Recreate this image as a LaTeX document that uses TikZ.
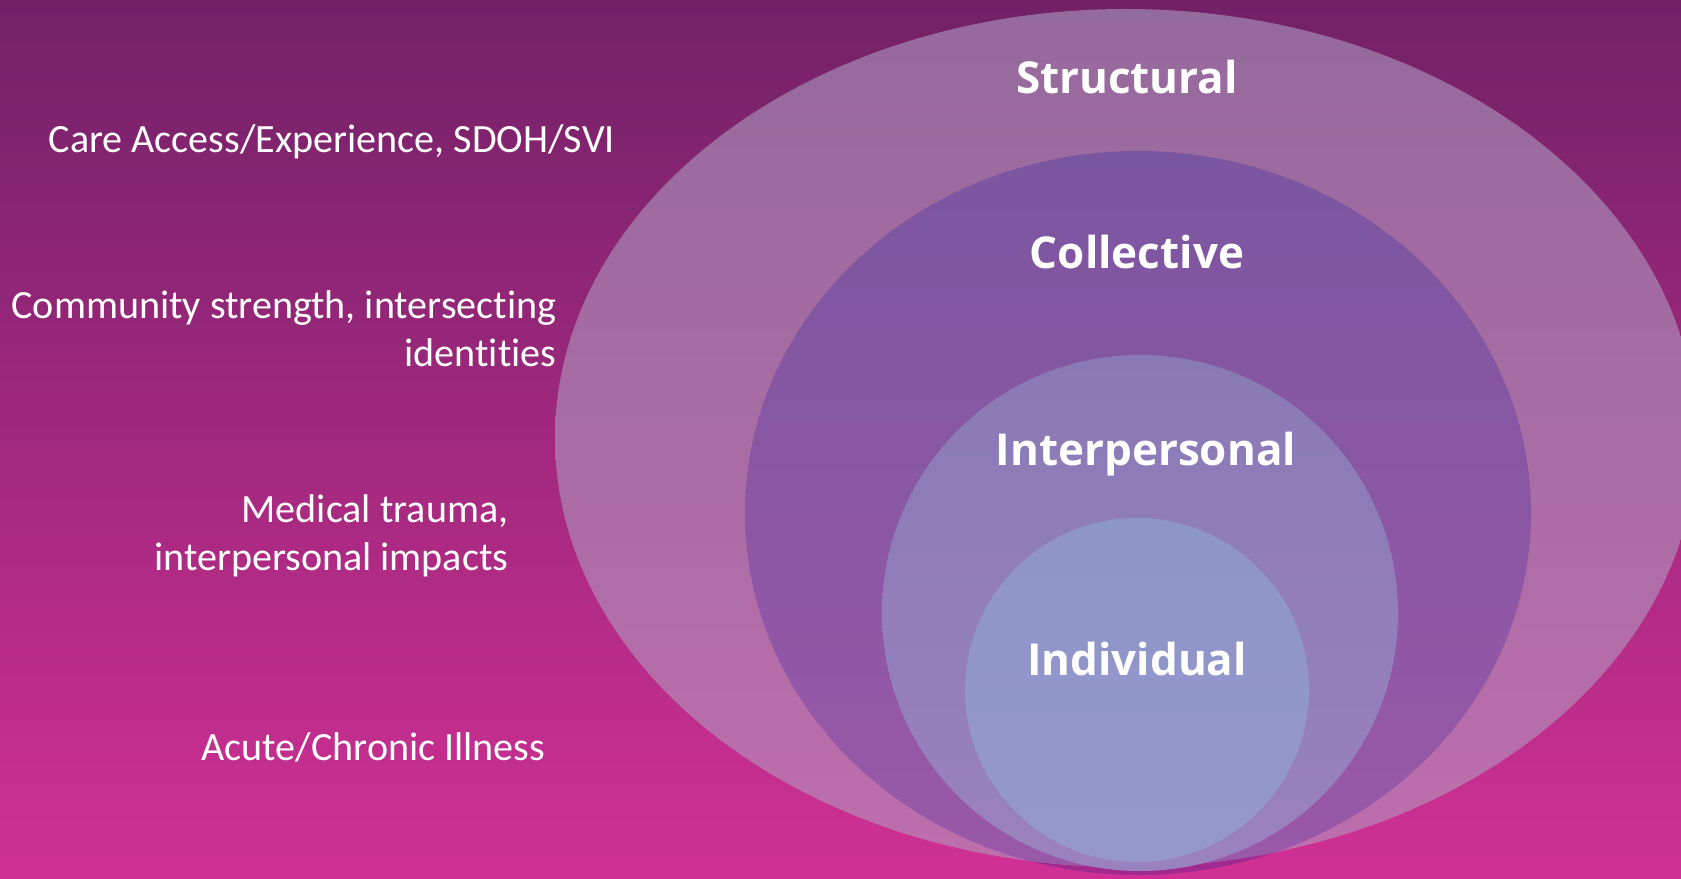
\documentclass[tikz,border=0pt]{standalone}
\usepackage{fontspec}
\setmainfont{Carlito}[Ligatures=NoCommon]
\newfontfamily\labelfont{Open Sans}
\definecolor{bgtop}{HTML}{722167}
\definecolor{bgbot}{HTML}{D03094}
\definecolor{strtop}{HTML}{956A9C}
\definecolor{strbot}{HTML}{BE6EAD}
\definecolor{coltop}{HTML}{7B56A0}
\definecolor{colbot}{HTML}{9A58A8}
\definecolor{coledge}{HTML}{A02A8F}
\definecolor{inttop}{HTML}{897AB6}
\definecolor{intbot}{HTML}{9A82BE}
\definecolor{indtop}{HTML}{8E95C8}
\definecolor{indbot}{HTML}{9698CC}
\tikzset{
  sidetext/.style={text=white, inner sep=0pt, font=\fontsize{11.4}{13.7}\selectfont},
  ringlabel/.style={text=white, inner sep=0pt, font=\labelfont\bfseries\fontsize{12.5}{15}\selectfont}
}
\begin{document}
\begin{tikzpicture}[x=0.01cm, y=-0.01cm]
\useasboundingbox (0,0) rectangle (1681,879);
% background
\shade[top color=bgtop, bottom color=bgbot] (0,0) rectangle (1681,879);
% collective sliver below the outer ellipse
\fill[coledge] (1138,513) ellipse [x radius=393, y radius=362];
% structural (outer)
\shade[top color=strtop, bottom color=strbot] (1126,438) ellipse [x radius=571, y radius=429];
% collective
\begin{scope}
  \clip (1126,438) ellipse [x radius=571, y radius=429];
  \shade[top color=coltop, bottom color=colbot] (1138,513) ellipse [x radius=393, y radius=362];
\end{scope}
% interpersonal
\shade[top color=inttop, bottom color=intbot] (1140,613) ellipse [x radius=258, y radius=258];
% individual
\shade[top color=indtop, bottom color=indbot] (1137,690) ellipse [x radius=172, y radius=172];
% ring labels
\node[ringlabel] (structural) at (1127,77) {Structural};
\node[ringlabel] (collective) at (1137,252) {Collective};
\node[ringlabel] (interpersonal) at (1146,454) {Interpersonal};
\node[ringlabel] (individual) at (1137,659) {Individual};
% side texts
\node[sidetext, anchor=west] (care) at (48,142) {Care Access/Experience, SDOH/SVI};
\node[sidetext, anchor=east, align=right] (community) at (557,329) {Community strength, intersecting\\identities};
\node[sidetext, anchor=east, align=right] (medical) at (509,536) {Medical trauma,\\interpersonal impacts};
\node[sidetext, anchor=east] (acute) at (546,747) {Acute/Chronic Illness};
\end{tikzpicture}
\end{document}
